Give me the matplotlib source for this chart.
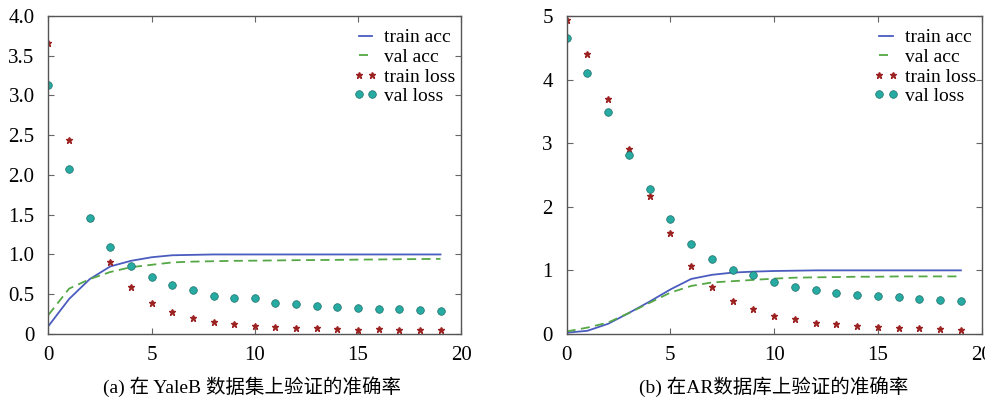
import matplotlib
matplotlib.use("Agg")
import matplotlib.pyplot as plt

plt.rcParams['font.family'] = ['Liberation Serif', 'Noto Sans CJK SC']
plt.rcParams['font.size'] = 14

epochs = list(range(20))

# (a) YaleB
yale_train_acc = [0.10, 0.44, 0.69, 0.85, 0.92, 0.965, 0.99, 0.995, 1.0, 1.0,
                  1.0, 1.0, 1.0, 1.0, 1.0, 1.0, 1.0, 1.0, 1.0, 1.0]
yale_val_acc = [0.24, 0.57, 0.69, 0.78, 0.84, 0.87, 0.90, 0.91, 0.915, 0.92,
                0.922, 0.925, 0.928, 0.93, 0.932, 0.935, 0.937, 0.94, 0.942, 0.945]
yale_train_loss = [3.66, 2.44, 1.455, 0.905, 0.59, 0.39, 0.27, 0.20, 0.155, 0.13,
                   0.10, 0.088, 0.075, 0.075, 0.065, 0.055, 0.058, 0.05, 0.05, 0.045]
yale_val_loss = [3.13, 2.08, 1.455, 1.095, 0.85, 0.72, 0.61, 0.55, 0.48, 0.45,
                 0.45, 0.39, 0.375, 0.355, 0.34, 0.33, 0.32, 0.32, 0.30, 0.295]

# (b) AR
ar_train_acc = [0.02, 0.05, 0.16, 0.33, 0.51, 0.70, 0.865, 0.93, 0.965, 0.98,
                0.99, 0.995, 1.0, 1.0, 1.0, 1.0, 1.0, 1.0, 1.0, 1.0]
ar_val_acc = [0.04, 0.10, 0.18, 0.33, 0.49, 0.65, 0.755, 0.81, 0.83, 0.85,
              0.87, 0.885, 0.89, 0.895, 0.90, 0.90, 0.905, 0.905, 0.905, 0.905]
ar_train_loss = [4.93, 4.40, 3.69, 2.91, 2.17, 1.59, 1.07, 0.74, 0.52, 0.39,
                 0.28, 0.23, 0.18, 0.16, 0.12, 0.11, 0.10, 0.09, 0.08, 0.07]
ar_val_loss = [4.66, 4.11, 3.49, 2.81, 2.28, 1.81, 1.415, 1.18, 1.01, 0.92,
               0.81, 0.74, 0.69, 0.645, 0.61, 0.60, 0.58, 0.55, 0.53, 0.52]

blue = '#4a5cbf'
green = '#55a845'
red = '#9c2222'
teal = '#26aaa2'


def draw(ax, tr_acc, va_acc, tr_loss, va_loss):
  ax.plot(epochs, tr_acc, '-', color=blue, lw=1.3, label='train acc')
  ax.plot(epochs, va_acc, '--', color=green, lw=1.3, dashes=(5, 3), label='val acc')
  ax.plot(epochs, tr_loss, '*', color=red, ms=5, mec=red, label='train loss')
  ax.plot(epochs, va_loss, 'o', color=teal, ms=5.5, mec='#1e6f6a', mew=0.5, label='val loss')
  ax.set_xlim(0, 20)
  ax.set_xticks([0, 5, 10, 15, 20])
  ax.tick_params(direction='in', top=True, right=True, length=4, color='#666666', labelsize=15)
  ax.tick_params(axis='x', pad=9)
  ax.tick_params(axis='y', pad=10)
  for s in ax.spines.values():
    s.set_color('#555555')
    s.set_linewidth(1.0)
  ax.legend(loc='upper right', bbox_to_anchor=(1.0, 0.978), frameon=False,
            numpoints=2, handlelength=1.3, handletextpad=0.3, labelspacing=0.1,
            borderpad=0.2, borderaxespad=0.1, fontsize=14)


fig = plt.figure(figsize=(9.85, 3.99), dpi=100)
ax1 = fig.add_axes([0.0492, 0.163, 0.419, 0.797])
ax2 = fig.add_axes([0.5753, 0.163, 0.4213, 0.797])

draw(ax1, yale_train_acc, yale_val_acc, yale_train_loss, yale_val_loss)
ax1.set_ylim(0, 4.0)
ax1.set_yticks([0, 0.5, 1.0, 1.5, 2.0, 2.5, 3.0, 3.5, 4.0])
ax1.set_yticklabels(['0', '0.5', '1.0', '1.5', '2.0', '2.5', '3.0', '3.5', '4.0'])

draw(ax2, ar_train_acc, ar_val_acc, ar_train_loss, ar_val_loss)
ax2.set_ylim(0, 5)
ax2.set_yticks([0, 1, 2, 3, 4, 5])

fig.text(0.256, 0.032, '(a) 在 YaleB 数据集上验证的准确率', ha='center', va='center', fontsize=14)
fig.text(0.785, 0.032, '(b) 在AR数据库上验证的准确率', ha='center', va='center', fontsize=14)

fig.savefig('out.png', dpi=100)
